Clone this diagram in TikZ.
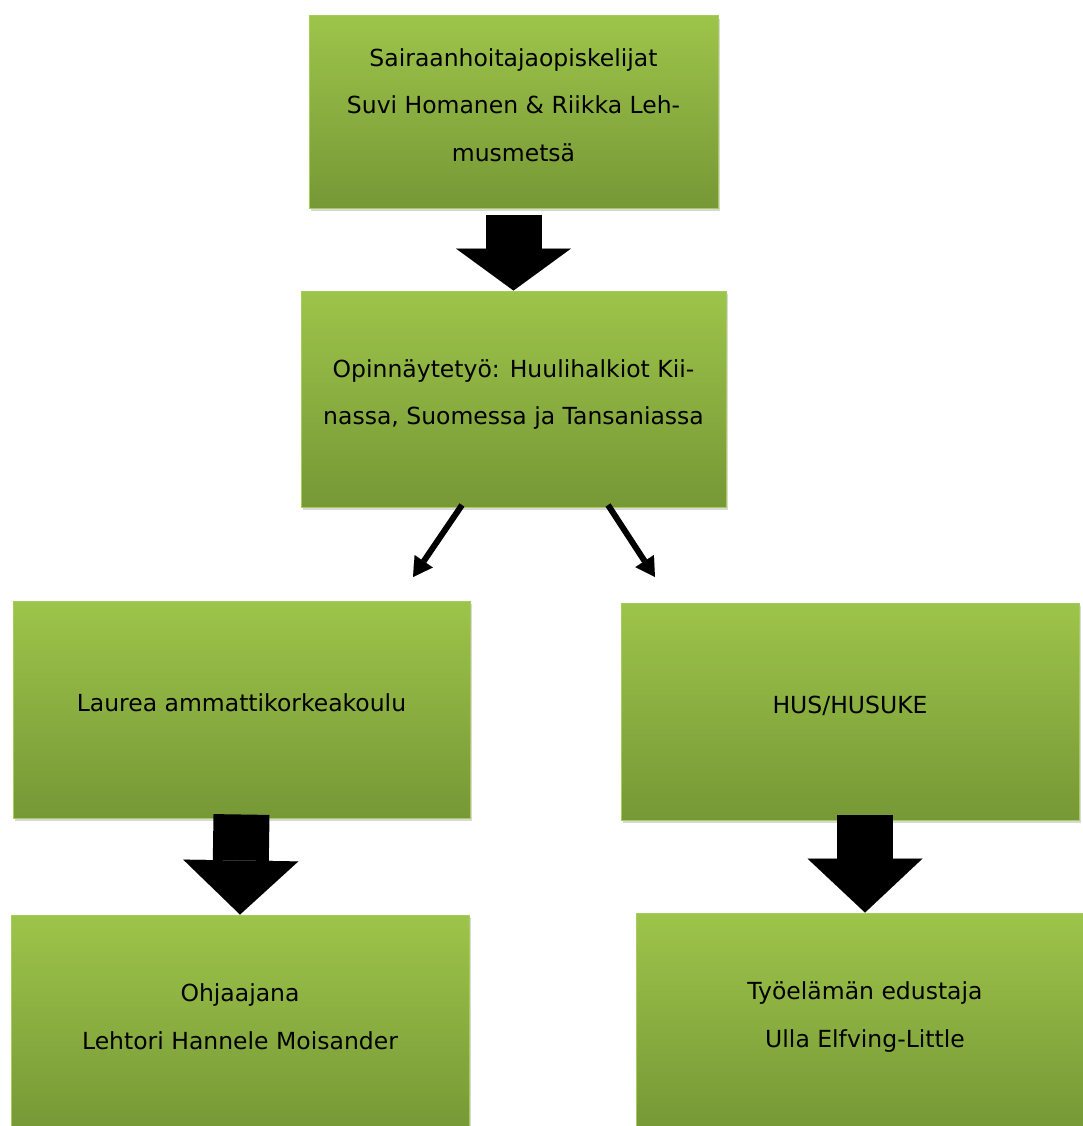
\documentclass[tikz,border=0pt]{standalone}
\usepackage{fontspec}
\setmainfont{DejaVu Sans}
\usetikzlibrary{positioning, arrows.meta}
\usetikzlibrary{shadows}

\definecolor{boxtop}{RGB}{157,196,74}
\definecolor{boxbottom}{RGB}{118,152,54}
\definecolor{boxedge}{RGB}{166,204,92}

\begin{document}
\begin{tikzpicture}[x=1pt,y=-1pt,
        box/.style={draw=boxedge, line width=1pt, top color=boxtop, bottom color=boxbottom,
            drop shadow={shadow xshift=2pt, shadow yshift=-3pt, opacity=0.3},
            align=center, font=\fontsize{23.5}{47.5}\selectfont, text depth=14pt},
        bigarrow/.style={line width=56pt, -{Triangle[width=115pt,length=#1,line width=0.01pt]}},
        bigarrow/.default=54pt,
        smallarrow/.style={line width=6pt, -{Triangle[width=22pt,length=19pt,line width=0.01pt]}}]
        \path[use as bounding box, fill=white] (0,0) rectangle (1083,1126);
        \clip (0,0) rectangle (1083,1126);

        \node[box, minimum width=409pt, minimum height=192pt] (stud) at (513.5,112)
            {Sairaanhoitajaopiskelijat\\Suvi Homanen \& Riikka Leh-\\musmetsä};
        \node[box, minimum width=425pt, minimum height=216pt] (thesis) at (513.5,399)
            {Opinnäytetyö: Huulihalkiot Kii-\\nassa, Suomessa ja Tansaniassa};
        \node[box, minimum width=457pt, minimum height=217pt] (laurea) at (241.5,709.5)
            {Laurea ammattikorkeakoulu};
        \node[box, minimum width=458pt, minimum height=217pt] (hus) at (850,711.5)
            {HUS/HUSUKE};
        \node[box, minimum width=458pt, minimum height=217pt] (advisor) at (240,1023.5)
            {Ohjaajana\\Lehtori Hannele Moisander};
        \node[box, minimum width=458pt, minimum height=217pt] (worklife) at (865,1021.5)
            {Työelämän edustaja\\Ulla Elfving-Little};

        \coordinate (lefttip) at (413,577);
        \coordinate (righttip) at (655,577);

        \draw[bigarrow=42pt] ([yshift=-6pt]stud.south) -- (thesis.north);
        \draw[smallarrow] ([xshift=-51.5pt,yshift=2.5pt]thesis.south) -- (lefttip);
        \draw[smallarrow] ([xshift=94.5pt,yshift=2.5pt]thesis.south) -- (righttip);
        \draw[bigarrow] ([yshift=4pt]laurea.south) -- (advisor.north);
        \draw[bigarrow] ([yshift=6pt]hus.south -| worklife.north) -- (worklife.north);
\end{tikzpicture}
\end{document}
